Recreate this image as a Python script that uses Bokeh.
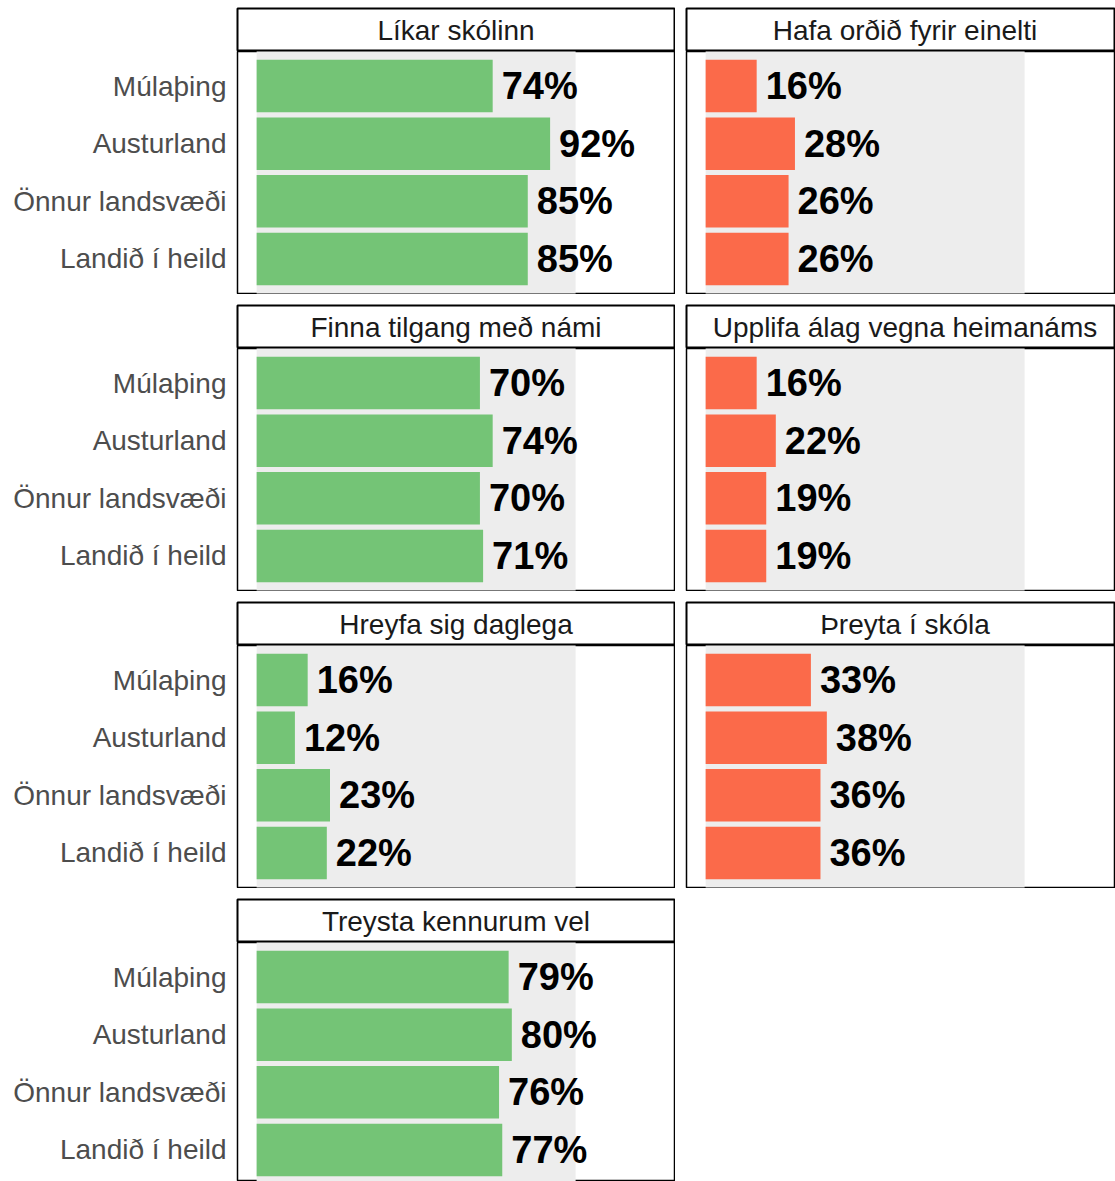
from bokeh.plotting import figure
from bokeh.models import Range1d, FixedTicker, ColumnDataSource, Spacer
from bokeh.layouts import column, row
from bokeh.embed import file_html
from bokeh.resources import INLINE
from bokeh.core.properties import value

# ---------------- data ----------------
categories = ["Múlaþing", "Austurland", "Önnur landsvæði", "Landið í heild"]

titles = [
    "Líkar skólinn",
    "Hafa orðið fyrir einelti",
    "Finna tilgang með námi",
    "Upplifa álag vegna heimanáms",
    "Hreyfa sig daglega",
    "Þreyta í skóla",
    "Treysta kennurum vel",
]
likar_skolinn = [74, 92, 85, 85]
einelti = [16, 28, 26, 26]
finna_tilgang = [70, 74, 70, 71]
alag_heimanam = [16, 22, 19, 19]
hreyfa_sig = [16, 12, 23, 22]
threyta = [33, 38, 36, 36]
treysta_kennurum = [79, 80, 76, 77]
positive = [True, False, True, False, True, False, True]

series = [likar_skolinn, einelti, finna_tilgang, alag_heimanam,
          hreyfa_sig, threyta, treysta_kennurum]

GREEN = "#74C476"
RED = "#FB6A4A"
BAND = "#EDEDED"
FONT = "Liberation Sans"

# ---------------- layout constants ----------------
X_START, X_END_FULL = -6.0, 131.0
FULL_FRAME_W = 437
PX_PER_PCT = FULL_FRAME_W / (X_END_FULL - X_START)
PITCH = 242 / 4.2
Y_TOP = 0.4


def make_facet(title, vals, color, col, last_row):
    left = col == 0
    w = 675 if left else 440
    mbl = 237 if left else 11
    mbr = 1 if left else 0
    frame_w = w - mbl - mbr
    x_end = X_START + frame_w / PX_PER_PCT

    # strip
    s = figure(width=w, height=44, x_range=Range1d(X_START, x_end), y_range=Range1d(0, 1),
               toolbar_location=None, output_backend="svg",
               x_axis_location=None, y_axis_location=None,
               min_border_left=mbl, min_border_right=mbr, min_border_top=1, min_border_bottom=0,
               outline_line_color="black", outline_line_width=2,
               background_fill_color="white", border_fill_color="white")
    s.grid.visible = False
    s.text(x=[(X_START + X_END_FULL) / 2], y=[0.5], text=[title],
           text_align="center", text_baseline="middle",
           text_font=value(FONT), text_font_size="28px", text_color="#1A1A1A")

    # panel
    h = 239 if last_row else 243
    mbb = 0 if last_row else 1
    frame_h = h - mbb
    p = figure(width=w, height=h, x_range=Range1d(X_START, x_end),
               y_range=Range1d(Y_TOP + frame_h / PITCH, Y_TOP),
               toolbar_location=None, output_backend="svg",
               x_axis_location=None, y_axis_location="left" if left else None,
               min_border_left=mbl, min_border_right=mbr, min_border_top=0, min_border_bottom=mbb,
               outline_line_color="black", outline_line_width=1.5,
               background_fill_color="white", border_fill_color="white")
    p.grid.visible = False

    src = ColumnDataSource(dict(
        y=list(range(1, len(categories) + 1)),
        cat=categories,
        val=vals,
        label=[f"{v}%" for v in vals],
    ))
    p.quad(left=[0], right=[100], bottom=[0], top=[5], color=BAND, line_color=None)
    p.hbar(y="y", left=0, right="val", height=0.91, color=color, line_color=None, source=src)
    p.text(x="val", y="y", text="label", x_offset=9, text_align="left", text_baseline="middle",
           text_font=value(FONT), text_font_style="bold", text_font_size="38px",
           text_color="black", source=src)

    if left:
        ax = p.yaxis[0]
        ax.ticker = FixedTicker(ticks=list(range(1, len(categories) + 1)))
        ax.major_label_overrides = {i + 1: c for i, c in enumerate(categories)}
        ax.axis_line_color = None
        ax.major_tick_line_color = None
        ax.minor_tick_line_color = None
        ax.major_tick_out = 0
        ax.major_tick_in = 0
        ax.minor_tick_out = 0
        ax.major_label_standoff = 11
        ax.major_label_text_font = FONT
        ax.major_label_text_font_size = "28px"
        ax.major_label_text_color = "#4D4D4D"

    return column(s, p, spacing=0)


rows = []
n = len(titles)
nrows = (n + 1) // 2
for r in range(nrows):
    items = []
    for c in range(2):
        i = r * 2 + c
        if i >= n:
            continue
        items.append(make_facet(titles[i], series[i], GREEN if positive[i] else RED,
                                c, r == nrows - 1))
    rows.append(row(*items, spacing=0))

layout = column(Spacer(width=10, height=7), column(*rows, spacing=10), spacing=0)

open("out.html", "w").write(file_html(layout, INLINE))
